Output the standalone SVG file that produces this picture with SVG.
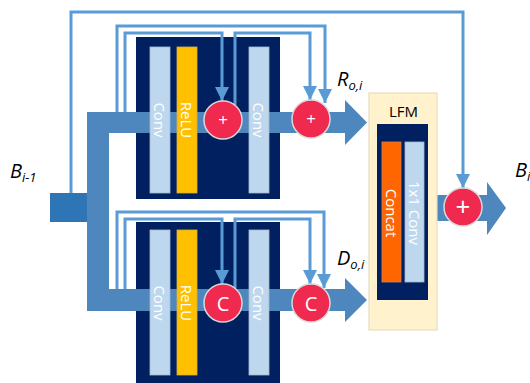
<svg xmlns="http://www.w3.org/2000/svg" width="530" height="383" viewBox="0 0 530 383">
<defs>
<style>
.navy{fill:#002060}
.band{fill:#4e87bd}
.bar{fill:#bdd7ee;stroke:#a8b8c8;stroke-width:0.8}
.relu{fill:#ffc000;stroke:#d8b040;stroke-width:0.8}
.concat{fill:#ff6600;stroke:#d08050;stroke-width:0.8}
.barText{font-family:"Open Sans","Noto Sans",sans-serif;font-size:15px;fill:#ffffff;text-anchor:middle;dominant-baseline:central}
.circ{fill:#f0294f;stroke:#d9d9d9;stroke-width:1.5}
.op{font-family:"Open Sans","Noto Sans",sans-serif;fill:#ffffff;text-anchor:middle;dominant-baseline:central}
.conn{fill:none;stroke:#5b9bd5;stroke-width:3}
.lbl{font-family:"Open Sans","Noto Sans",sans-serif;font-style:italic;font-size:20px;fill:#000000}
.sub{font-size:13px}
</style>
<marker id="ah" markerUnits="userSpaceOnUse" markerWidth="16" markerHeight="16" viewBox="0 0 16 16" refX="14" refY="8" orient="auto">
<path d="M0,1 L14,8 L0,15 Z" fill="#5b9bd5"/>
</marker>
</defs>

<g id="input">
<rect x="50" y="193" width="37" height="29" fill="#2e75b6"/>
</g>

<g id="blockTop">
<rect class="navy" x="136" y="37" width="144" height="162"/>
</g>
<g id="blockBottom">
<rect class="navy" x="136" y="222" width="144" height="165"/>
</g>

<g id="bands">
<path class="band" d="M87,112 H345 V100 L367,122.5 L345,145 V133 H109 V207 H87 Z"/>
<path class="band" d="M87,207 H109 V289 H345 V278 L367,300 L345,322 V311 H87 Z"/>
<path class="band" d="M437,195 H487 V182 L506,208 L487,235 V221 H437 Z"/>
</g>

<g id="topBars">
<rect class="bar" x="150" y="47" width="20" height="146"/>
<text class="barText" transform="translate(160,120) rotate(90)">Conv</text>
<rect class="relu" x="177" y="47" width="20" height="146"/>
<text class="barText" transform="translate(187,120) rotate(90)">ReLU</text>
<rect class="bar" x="249" y="47" width="20" height="146"/>
<text class="barText" transform="translate(259,120) rotate(90)">Conv</text>
</g>

<g id="bottomBars">
<rect class="bar" x="150" y="230" width="20" height="145"/>
<text class="barText" transform="translate(160,303) rotate(90)">Conv</text>
<rect class="relu" x="177" y="230" width="20" height="145"/>
<text class="barText" transform="translate(187,303) rotate(90)">ReLU</text>
<rect class="bar" x="249" y="230" width="20" height="145"/>
<text class="barText" transform="translate(259,303) rotate(90)">Conv</text>
</g>

<g id="lfm">
<rect x="369" y="93" width="68" height="237" fill="#fff2cc" stroke="#e6dcc0" stroke-width="1.2"/>
<text x="403.5" y="117" font-family="'Open Sans','Noto Sans',sans-serif" font-size="15" text-anchor="middle" fill="#000">LFM</text>
<rect class="navy" x="377" y="124" width="51" height="176"/>
<rect class="concat" x="382" y="142" width="19" height="140"/>
<text class="barText" transform="translate(391.5,213) rotate(90)">Concat</text>
<rect class="bar" x="405" y="142" width="19" height="140"/>
<text class="barText" transform="translate(414.5,213) rotate(90)">1x1 Conv</text>
</g>

<g id="connectors">
<path class="conn" d="M71,193 V12 H463 V188" marker-end="url(#ah)"/>
<path class="conn" d="M117,112 V26 H325 V103" marker-end="url(#ah)"/>
<path class="conn" d="M125,112 V33 H222 V101" marker-end="url(#ah)"/>
<path class="conn" d="M235,105 V33 H310 V100" marker-end="url(#ah)"/>
<path class="conn" d="M117,289 V212 H324 V288" marker-end="url(#ah)"/>
<path class="conn" d="M125,289 V219 H222 V284" marker-end="url(#ah)"/>
<path class="conn" d="M235,288 V219 H310 V284" marker-end="url(#ah)"/>
</g>

<g id="add1">
<circle class="circ" cx="223" cy="120" r="19"/>
<text class="op" x="223" y="119" font-size="17">+</text>
</g>
<g id="add2">
<circle class="circ" cx="311" cy="119" r="19"/>
<text class="op" x="311" y="118" font-size="17">+</text>
</g>
<g id="cat1">
<circle class="circ" cx="223" cy="303" r="19"/>
<text class="op" x="223" y="303" font-size="20">C</text>
</g>
<g id="cat2">
<circle class="circ" cx="311" cy="303" r="19"/>
<text class="op" x="311" y="303" font-size="20">C</text>
</g>
<g id="add3">
<circle class="circ" cx="463" cy="207" r="19"/>
<text class="op" x="463" y="206" font-size="26">+</text>
</g>

<g id="labels">
<text class="lbl" x="10" y="178">B<tspan class="sub" dy="4">i-1</tspan></text>
<text class="lbl" x="337" y="86">R<tspan class="sub" dy="4">o,i</tspan></text>
<text class="lbl" x="337" y="265">D<tspan class="sub" dy="4">o,i</tspan></text>
<text class="lbl" x="515" y="177">B<tspan class="sub" dy="4">i</tspan></text>
</g>
</svg>
